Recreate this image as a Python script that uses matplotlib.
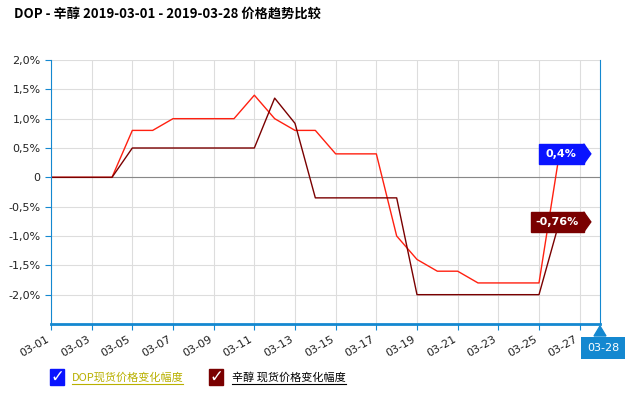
import matplotlib
matplotlib.use("Agg")
import matplotlib.pyplot as plt
from matplotlib.patches import Polygon, Rectangle

plt.rcParams['font.family'] = ['Noto Sans CJK SC', 'DejaVu Sans']

days = list(range(1, 27))
dop = [0, 0, 0, 0, 0.8, 0.8, 1.0, 1.0, 1.0, 1.0, 1.4, 1.0, 0.8, 0.8, 0.4, 0.4, 0.4,
       -1.0, -1.4, -1.6, -1.6, -1.8, -1.8, -1.8, -1.8, 0.4]
octanol = [0, 0, 0, 0, 0.5, 0.5, 0.5, 0.5, 0.5, 0.5, 0.5, 1.35, 0.92, -0.35, -0.35, -0.35,
           -0.35, -0.35, -2.0, -2.0, -2.0, -2.0, -2.0, -2.0, -2.0, -0.76]
xticks = list(range(1, 28, 2))
xlabels = ['03-%02d' % d for d in xticks]
yticks = [2.0, 1.5, 1.0, 0.5, 0, -0.5, -1.0, -1.5, -2.0]
ylabels = ['2,0%', '1,5%', '1,0%', '0,5%', '0', '-0,5%', '-1,0%', '-1,5%', '-2,0%']

blue = '#1488d0'
fig = plt.figure(figsize=(6.28, 4.09), dpi=100)
ax = fig.add_axes([51/628, 1-324/409, 549/628, 264/409])
ax.set_xlim(1, 28)
ax.set_ylim(-2.5, 2.0)
ax.set_xticks(xticks)
ax.set_xticklabels(xlabels, rotation=30, ha='right', fontsize=8, family='DejaVu Sans')
ax.set_yticks(yticks)
ax.set_yticklabels(ylabels, fontsize=8, family='DejaVu Sans')
ax.grid(True, color='#dddddd', lw=0.8)
ax.spines['top'].set_visible(False)
ax.spines['left'].set_color(blue)
ax.spines['bottom'].set_color(blue)
ax.spines['bottom'].set_linewidth(2)
ax.spines['right'].set_color(blue)
ax.tick_params(axis='both', colors=blue, labelcolor='#222222', length=4)
ax.axhline(0, color='#888888', lw=0.8)

ax.plot(days, dop, color='#ff2010', lw=1)
ax.plot(days, octanol, color='#7a0000', lw=1)

def tag(y, x0, text, color):
    x1 = 27.2
    ax.add_patch(Rectangle((x0, y-0.17), x1-x0, 0.34, color=color, zorder=5, clip_on=False))
    ax.add_patch(Polygon([[x1, y-0.17], [x1, y+0.17], [27.55, y]], closed=True, color=color, zorder=5, clip_on=False))
    ax.text((x0+x1)/2, y, text, color='white', fontsize=8, fontweight='bold', ha='center', va='center',
            zorder=6, family='DejaVu Sans')

tag(dop[-1], 25.0, '0,4%', '#0a14ff')
tag(octanol[-1], 24.6, '-0,76%', '#7a0000')

fig.text(603/628, 1-348/409, '03-28', fontsize=8, color='white', ha='center', va='center',
         family='DejaVu Sans', bbox=dict(boxstyle='square,pad=0.55', fc=blue, ec='none'))
fig.patches.append(Polygon([[594/628, 1-336/409], [606/628, 1-336/409], [600/628, 1-326/409]],
                           closed=True, transform=fig.transFigure, color=blue, figure=fig))

fig.text(14/628, 1-14/409, 'DOP - 辛醇 2019-03-01 - 2019-03-28 价格趋势比较', fontsize=9.5,
         fontweight='bold', ha='left', va='center')

fig.patches.append(Rectangle((50/628, 1-385/409), 14/628, 16/409, transform=fig.transFigure,
                             color='#0a14ff', figure=fig))
fig.text(57/628, 1-377/409, '✓', color='white', fontsize=12, ha='center', va='center', family='DejaVu Sans')
fig.text(72/628, 1-377/409, 'DOP现货价格变化幅度', fontsize=8, color='#b8b000', ha='left', va='center')
fig.lines.append(plt.Line2D([72/628, 183/628], [1-384/409]*2, transform=fig.transFigure, color='#b8b000', lw=0.8))
fig.patches.append(Rectangle((209/628, 1-385/409), 14/628, 16/409, transform=fig.transFigure,
                             color='#7a0000', figure=fig))
fig.text(216/628, 1-377/409, '✓', color='white', fontsize=12, ha='center', va='center', family='DejaVu Sans')
fig.text(232/628, 1-377/409, '辛醇 现货价格变化幅度', fontsize=8, color='black', ha='left', va='center')
fig.lines.append(plt.Line2D([232/628, 346/628], [1-384/409]*2, transform=fig.transFigure, color='black', lw=0.8))

fig.savefig('out.png', dpi=100)
